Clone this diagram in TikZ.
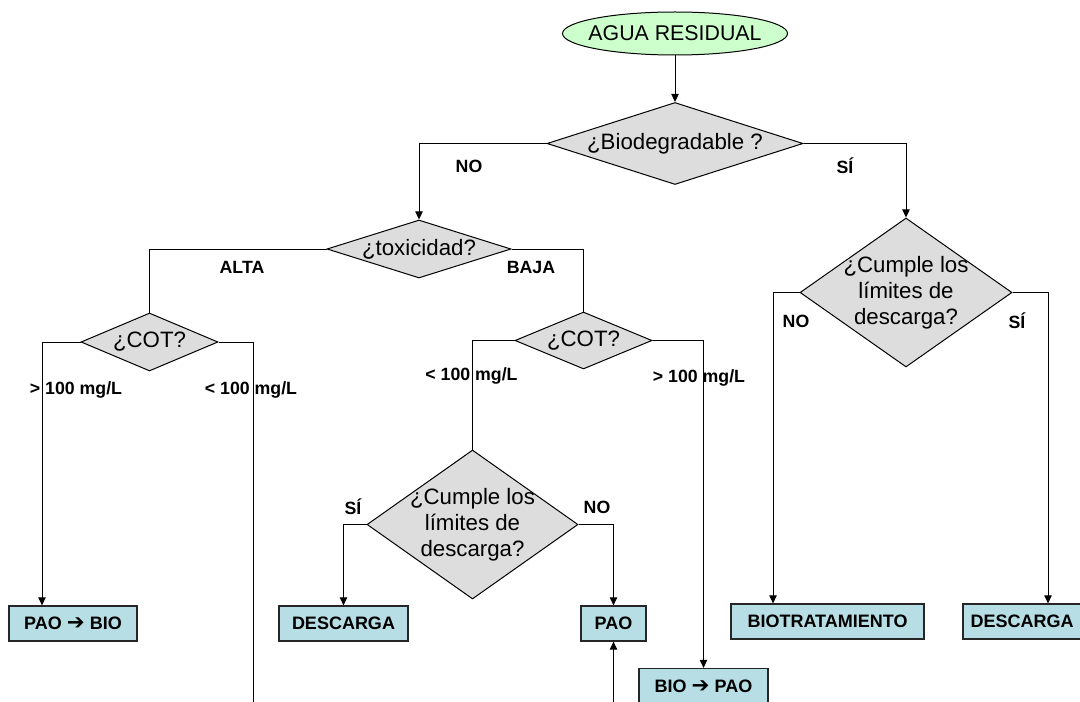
\documentclass[tikz,border=0pt]{standalone}
\usepackage{fontspec}
\setmainfont{Liberation Sans}
\newfontfamily\arrowfont{DejaVu Sans}
\usetikzlibrary{arrows.meta,shapes.geometric}

\definecolor{aguagreen}{RGB}{204,255,204}
\definecolor{diagray}{RGB}{221,221,221}
\definecolor{boxblue}{RGB}{183,222,228}
\newcommand{\pxu}{0.75pt}
\newcommand{\flecha}{{\arrowfont\fontsize{16}{16}\selectfont ➔}}

\begin{document}
\begin{tikzpicture}[x=0.75pt,y=-0.75pt,line width=0.75pt,
  arr/.style={-{Triangle[length=6pt,width=5.5pt]}},
  dec/.style={diamond,draw,fill=diagray,inner sep=0pt},
  qtext/.style={font=\fontsize{16.7}{19.5}\selectfont,align=center},
  res/.style={draw=black!85,line width=0.9pt,fill=boxblue,minimum height=35*\pxu,inner sep=0pt,
    font=\fontsize{13.5}{16}\selectfont\bfseries},
  lab/.style={font=\fontsize{13.3}{16}\selectfont\bfseries}]
\useasboundingbox (0,0) rectangle (1080,702);
\clip (0,0) rectangle (1080,702);

% inicio
\node[ellipse,draw,fill=aguagreen,minimum width=225*\pxu,minimum height=43*\pxu,inner sep=0pt,
  label={[font=\fontsize{16}{19}\selectfont]center:AGUA RESIDUAL}] (agua) at (675,33.5) {};

% decisiones
\node[dec,minimum width=256*\pxu,minimum height=82*\pxu,label={[qtext]center:¿Biodegradable ?}] (bio) at (675,143.5) {};
\node[dec,minimum width=184*\pxu,minimum height=58*\pxu,label={[qtext]center:¿toxicidad?}] (tox) at (419,249) {};
\node[dec,minimum width=137*\pxu,minimum height=58*\pxu,label={[qtext]center:¿COT?}] (cotl) at (149.5,342) {};
\node[dec,minimum width=137*\pxu,minimum height=57*\pxu,label={[qtext]center:¿COT?}] (cotm) at (583.5,340.5) {};
\node[dec,minimum width=211*\pxu,minimum height=149*\pxu,
  label={[qtext]center:¿Cumple los\\límites de\\descarga?}] (cumm) at (472.5,524.5) {};
\node[dec,minimum width=212*\pxu,minimum height=149*\pxu,
  label={[qtext]center:¿Cumple los\\límites de\\descarga?}] (cumr) at (906,292.5) {};

% resultados
\node[res,minimum width=128*\pxu] (pb) at (73,623.5) {PAO \flecha{} BIO};
\node[res,minimum width=129*\pxu] (dl) at (343.5,623.5) {DESCARGA};
\node[res,minimum width=65*\pxu] (pao) at (613.5,623.5) {PAO};
\node[res,minimum width=129*\pxu] (bp) at (703.5,686) {BIO \flecha{} PAO};
\node[res,minimum width=193*\pxu] (bt) at (827.5,621.5) {BIOTRATAMIENTO};
\node[res,minimum width=118*\pxu] (dr) at (1022,621.5) {DESCARGA};

\coordinate (cotl-end) at (253,702);
\coordinate (pao-end) at (613.5,702);

% conexiones
\draw[arr] (agua) -- (bio);
\draw[arr] (bio.west) -| (tox.north);
\draw[arr] (bio.east) -| (cumr.north);
\draw (tox.west) -| (cotl.north);
\draw (tox.east) -| (cotm.north);
\draw[arr] (cotl.west) -| ([xshift=-31*\pxu]pb.north);
\draw (cotl.east) -| (cotl-end);
\draw (cotm.west) -| (cumm.north);
\draw[arr] (cotm.east) -| (bp.north);
\draw[arr] (cumm.west) -| (dl.north);
\draw[arr] (cumm.east) -| (pao.north);
\draw[arr] (pao-end) -- (pao.south);
\draw[arr] (cumr.west) -| ([xshift=-54.5*\pxu]bt.north);
\draw[arr] (cumr.east) -| ([xshift=26*\pxu]dr.north);

% etiquetas
\node[lab] (l-no1) at (469,166) {NO};
\node[lab] (l-si1) at (845,166) {SÍ};
\node[lab] (l-alta) at (242,267) {ALTA};
\node[lab] (l-baja) at (531,267) {BAJA};
\node[lab] (l-may1) at (76,390) {> 100 mg/L};
\node[lab] (l-men1) at (251,390) {< 100 mg/L};
\node[lab] (l-men2) at (471.5,376) {< 100 mg/L};
\node[lab] (l-may2) at (699,378) {> 100 mg/L};
\node[lab] (l-si2) at (353,507) {SÍ};
\node[lab] (l-no2) at (597,507) {NO};
\node[lab] (l-no3) at (796,321) {NO};
\node[lab] (l-si3) at (1017,321) {SÍ};
\end{tikzpicture}
\end{document}
